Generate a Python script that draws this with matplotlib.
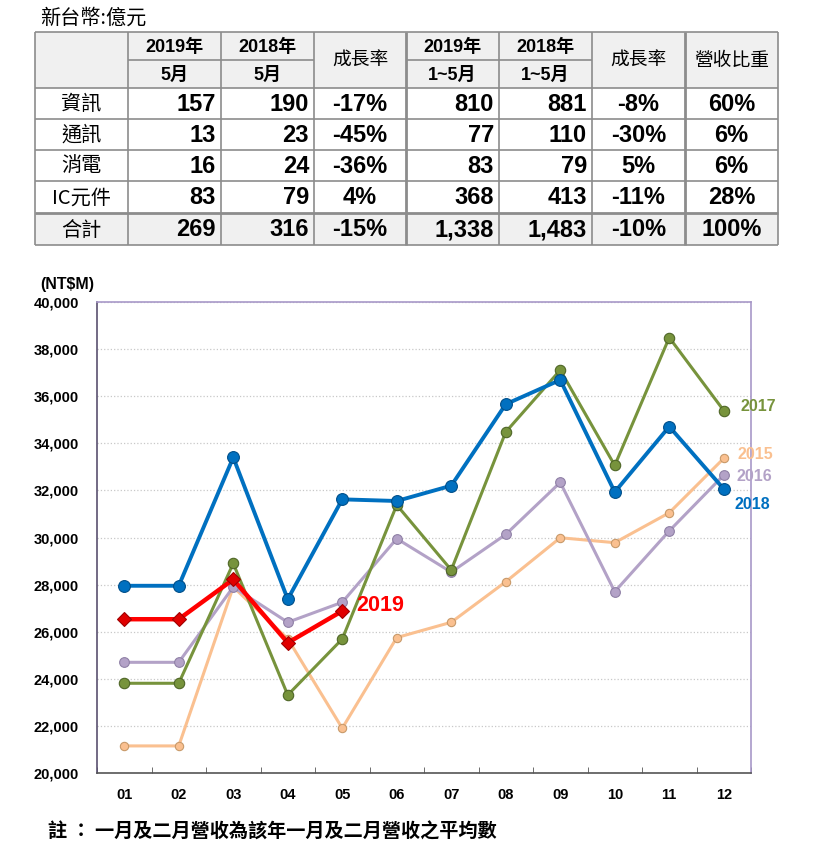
import numpy as np
import matplotlib.pyplot as plt
from matplotlib.patches import Rectangle

plt.rcParams['font.family'] = ['Liberation Sans', 'Noto Sans CJK TC', 'DejaVu Sans']
plt.rcParams['lines.solid_capstyle'] = 'butt'
CJK = ['Noto Sans CJK TC', 'DejaVu Sans']
NUM = ['Liberation Sans', 'Noto Sans CJK TC']

# -----------------------
# 表格資料
# -----------------------
table_title = "新台幣:億元"
row_names = ["資訊", "通訊", "消電", "IC元件", "合計"]
may_2019 = ["157", "13", "16", "83", "269"]
may_2018 = ["190", "23", "24", "79", "316"]
may_growth = ["-17%", "-45%", "-36%", "4%", "-15%"]
ytd_2019 = ["810", "77", "83", "368", "1,338"]
ytd_2018 = ["881", "110", "79", "413", "1,483"]
ytd_growth = ["-8%", "-30%", "5%", "-11%", "-10%"]
share = ["60%", "6%", "6%", "28%", "100%"]

# -----------------------
# 月營收資料 (NT$M)
# -----------------------
months = ["01", "02", "03", "04", "05", "06", "07", "08", "09", "10", "11", "12"]
rev_2015 = [21150, 21150, 27900, 25700, 21900, 25750, 26400, 28120, 29990, 29780, 31050, 33360]
rev_2016 = [24700, 24700, 27900, 26400, 27250, 29950, 28530, 30130, 32340, 27700, 30280, 32650]
rev_2017 = [23810, 23810, 28900, 23310, 25690, 31380, 28620, 34480, 37110, 33060, 38490, 35390]
rev_2018 = [27950, 27950, 33400, 27380, 31620, 31550, 32200, 35660, 36690, 31930, 34710, 32060]
rev_2019 = [26530, 26530, 28220, 25530, 26880]

note = "註 ： 一月及二月營收為該年一月及二月營收之平均數"

W, H = 815, 859
fig = plt.figure(figsize=(W / 100, H / 100), dpi=100)

# ---- 表格 (像素座標) ----
tab = fig.add_axes([0, 0, 1, 1])
tab.set_xlim(0, W)
tab.set_ylim(H, 0)
tab.axis("off")

cx = [35, 128, 221, 314, 406, 499, 592, 685, 778]
ry = [32, 60, 88, 119, 150, 181, 213, 245]
grid_c = "#8c8c8c"
fill = "#f0f0f0"

tab.text(40, 18, table_title, fontsize=14.5, family=CJK, va="center", ha="left")

tab.add_patch(Rectangle((cx[0], ry[0]), cx[-1] - cx[0], ry[2] - ry[0], fc=fill, ec="none"))
tab.add_patch(Rectangle((cx[0], ry[6]), cx[-1] - cx[0], ry[7] - ry[6], fc=fill, ec="none"))

for i, x in enumerate(cx):
    lw = 2.0 if x in (406, 685) else 1.2
    tab.plot([x, x], [ry[0], ry[-1]], color=grid_c, lw=lw)
for j, y in enumerate(ry):
    lw = 2.0 if y in (213,) else 1.2
    if j == 1:
        for a, b in [(1, 3), (4, 6)]:
            tab.plot([cx[a], cx[b]], [y, y], color=grid_c, lw=lw)
    else:
        tab.plot([cx[0], cx[-1]], [y, y], color=grid_c, lw=lw)

hdr_top = {1: "2019年", 2: "2018年", 4: "2019年", 5: "2018年"}
hdr_bot = {1: "5月", 2: "5月", 4: "1~5月", 5: "1~5月"}
for c in hdr_top:
    xm = (cx[c] + cx[c + 1]) / 2
    tab.text(xm, (ry[0] + ry[1]) / 2 + 1, hdr_top[c], fontsize=13, weight="bold",
             family=NUM, ha="center", va="center")
    tab.text(xm, (ry[1] + ry[2]) / 2 + 1, hdr_bot[c], fontsize=13, weight="bold",
             family=NUM, ha="center", va="center")
for c, t in [(3, "成長率"), (6, "成長率"), (7, "營收比重")]:
    tab.text((cx[c] + cx[c + 1]) / 2, (ry[0] + ry[2]) / 2, t, fontsize=13.5,
             family=CJK, ha="center", va="center")

cols = [may_2019, may_2018, may_growth, ytd_2019, ytd_2018, ytd_growth, share]
for r, name in enumerate(row_names):
    ym = (ry[r + 2] + ry[r + 3]) / 2 + 1
    tab.text((cx[0] + cx[1]) / 2, ym, name, fontsize=14.5, family=CJK,
             ha="center", va="center")
    for k, col in enumerate(cols):
        c = k + 1
        if c in (1, 2, 4, 5):
            tab.text(cx[c + 1] - 5, ym, col[r], fontsize=17, weight="bold",
                     ha="right", va="center")
        else:
            tab.text((cx[c] + cx[c + 1]) / 2, ym, col[r], fontsize=17, weight="bold",
                     ha="center", va="center")

# ---- 折線圖 ----
ax = fig.add_axes([97 / W, 1 - 773 / H, (751 - 97) / W, (773 - 302) / H])
x = np.arange(1, 13)

series = [
    (rev_2015, "#FAC090", "#c89a6a", 2.2, 6),
    (rev_2016, "#B3A2C7", "#8f80a6", 2.2, 7),
    (rev_2017, "#77933C", "#4f6627", 2.2, 7.5),
    (rev_2018, "#0070C0", "#004f8a", 2.8, 8.5),
]
for vals, col, ecol, lw, ms in series:
    ax.plot(x, vals, color=col, lw=lw, marker="o", ms=ms, mfc=col, mec=ecol, mew=0.8,
            solid_capstyle="round")
ax.plot(x[:len(rev_2019)], rev_2019, color="#FF0000", lw=3.2, marker="D", ms=7,
        mfc="#e00000", mec="#a00000", mew=0.8)

ax.set_xlim(0.5, 12.5)
ax.set_ylim(20000, 40000)
ax.set_yticks(np.arange(20000, 40001, 2000))
ax.set_yticklabels([f"{v:,}" for v in range(20000, 40001, 2000)])
ax.set_xticks(x)
ax.set_xticklabels(months)
ax.set_xticks(np.arange(0.5, 12.6, 1), minor=True)
ax.tick_params(axis="x", which="major", length=0, pad=11)
ax.tick_params(axis="x", which="minor", direction="in", length=4, color="#555555")
ax.tick_params(axis="y", length=0, pad=13)
for lab in ax.get_xticklabels() + ax.get_yticklabels():
    lab.set_fontsize(10.5)
    lab.set_fontweight("bold")
ax.grid(axis="y", color="#c8c8c8", ls=":", lw=0.9)
ax.set_axisbelow(True)
ax.spines["left"].set_color("#5a5070")
ax.spines["bottom"].set_color("#555555")
ax.spines["top"].set_color("#a898c8")
ax.spines["right"].set_color("#a898c8")
for s in ax.spines.values():
    s.set_linewidth(1.2)

tab.text(67, 284, "(NT$M)", fontsize=11.5, weight="bold", ha="center", va="center")
# 年份標籤
ax.annotate("2017", (x[-1], rev_2017[-1]), xytext=(12, 3), textcoords="offset points",
            color="#77933C", fontsize=11.5, weight="bold", va="center")
ax.annotate("2015", (x[-1], rev_2015[-1]), xytext=(10, 3), textcoords="offset points",
            color="#FAC090", fontsize=11.5, weight="bold", va="center")
ax.annotate("2016", (x[-1], rev_2016[-1]), xytext=(9, -1), textcoords="offset points",
            color="#B3A2C7", fontsize=11.5, weight="bold", va="center")
ax.annotate("2018", (x[-1], rev_2018[-1]), xytext=(8, -11), textcoords="offset points",
            color="#0070C0", fontsize=11.5, weight="bold", va="center")
ax.annotate("2019", (x[len(rev_2019) - 1], rev_2019[-1]), xytext=(10, 4),
            textcoords="offset points", color="#FF0000", fontsize=15.5, weight="bold",
            va="center")

tab.text(48, 832, note, fontsize=13.8, family=CJK, weight="bold", ha="left", va="center")

fig.savefig("out.png", dpi=100)
